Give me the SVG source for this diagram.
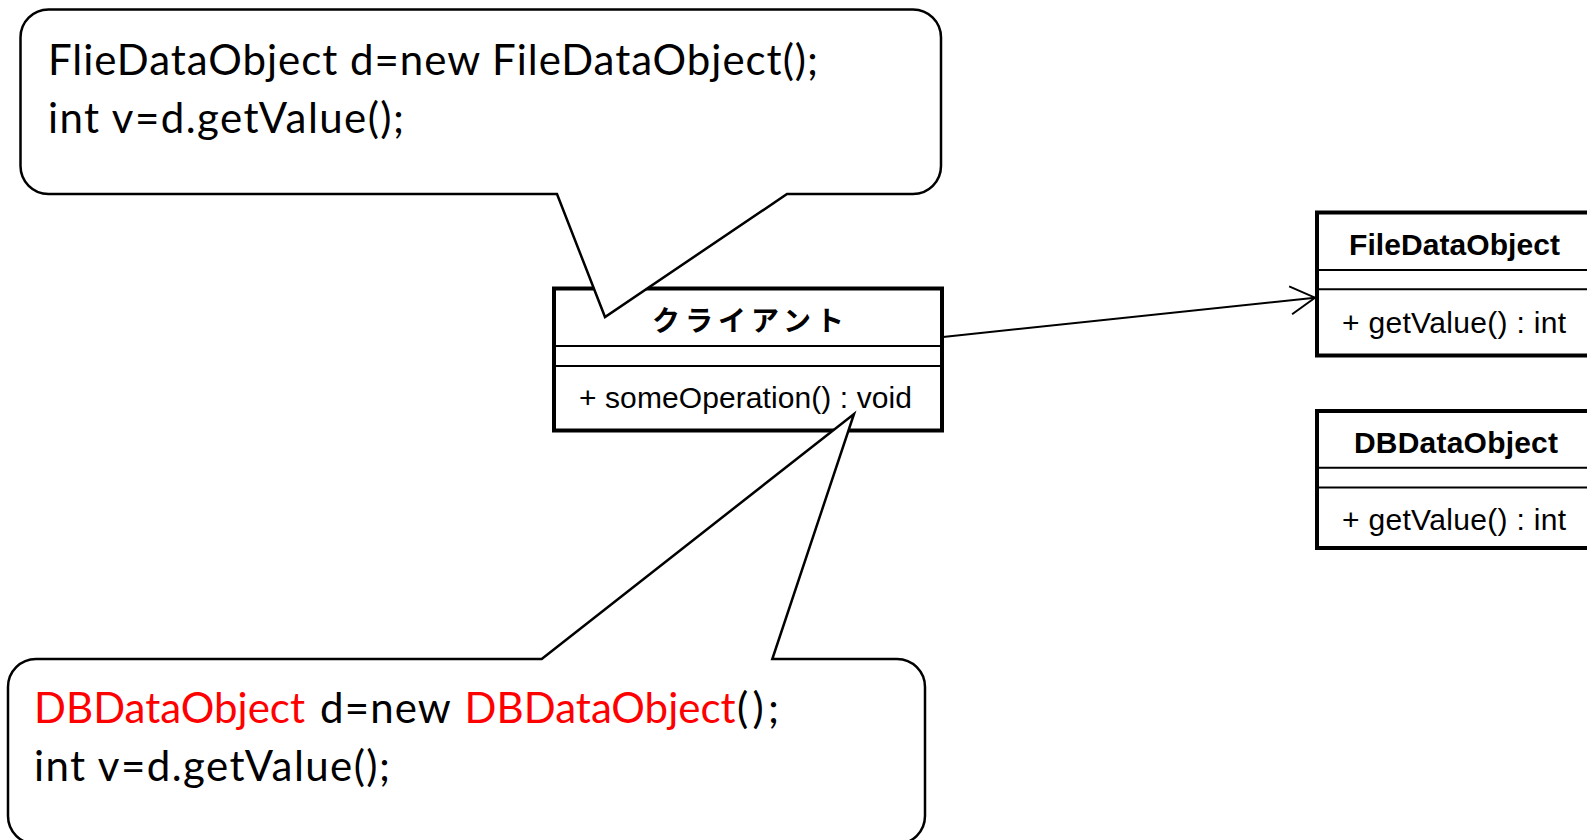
<svg xmlns="http://www.w3.org/2000/svg" width="1587" height="840" viewBox="0 0 1587 840">
<style>
.callout{fill:#fff;stroke:#000;stroke-width:2.5;stroke-linejoin:miter}
.code{font-family:Lato,"Open Sans",sans-serif;font-size:42px;fill:#000}
.red{fill:#ff0000}
.box{fill:#fff;stroke:#000;stroke-width:4}
.sep{stroke:#000;stroke-width:2}
.cls{font-family:"Liberation Sans",Arial,sans-serif;font-size:30px;fill:#000}
.bold{font-weight:bold}
.jp{font-family:"Noto Sans CJK JP","Noto Sans",sans-serif;font-size:28px;font-weight:bold;fill:#000}
.conn{fill:none;stroke:#000;stroke-width:2}
</style>
<defs>
<marker id="open" markerUnits="userSpaceOnUse" markerWidth="32" markerHeight="34" viewBox="-28 -17 32 34" refX="0" refY="0" orient="auto">
<path d="M-24.5,-14 L0,0 L-24.5,14" fill="none" stroke="#000" stroke-width="2"/>
</marker>
</defs>
<rect width="1587" height="840" fill="#fff"/>

<g id="connectors">
<line class="conn" x1="943" y1="337" x2="1315" y2="297.7" marker-end="url(#open)"/>
</g>

<g id="client">
<rect class="box" x="554" y="288.5" width="388" height="142"/>
<line class="sep" x1="554" y1="346" x2="942" y2="346"/>
<line class="sep" x1="554" y1="366" x2="942" y2="366"/>
<text class="jp" x="652" y="331" textLength="192">クライアント</text>
<text class="cls" x="579" y="408" textLength="333">+ someOperation() : void</text>
</g>

<g id="fileDataObject">
<rect class="box" x="1317" y="212.5" width="276" height="143"/>
<line class="sep" x1="1317" y1="270" x2="1593" y2="270"/>
<line class="sep" x1="1317" y1="289.3" x2="1593" y2="289.3"/>
<text class="cls bold" x="1349" y="255" textLength="211">FileDataObject</text>
<text class="cls" x="1342" y="333" textLength="224">+ getValue() : int</text>
</g>

<g id="dbDataObject">
<rect class="box" x="1317" y="411" width="276" height="137"/>
<line class="sep" x1="1317" y1="467.7" x2="1593" y2="467.7"/>
<line class="sep" x1="1317" y1="487.5" x2="1593" y2="487.5"/>
<text class="cls bold" x="1354" y="453" textLength="204">DBDataObject</text>
<text class="cls" x="1342" y="530" textLength="224">+ getValue() : int</text>
</g>

<g id="noteTop">
<path class="callout" d="M48.5,9.5 H913 A28,28 0 0 1 941,37.5 V166 A28,28 0 0 1 913,194 H787 L605,317 L557,194 H48.5 A28,28 0 0 1 20.5,166 V37.5 A28,28 0 0 1 48.5,9.5 Z"/>
<text class="code" x="48" y="75" textLength="770">FlieDataObject d=new FileDataObject();</text>
<text class="code" x="48" y="133" textLength="356">int v=d.getValue();</text>
</g>

<g id="noteBottom">
<path class="callout" d="M36,659 H541.7 L854,414 L772.3,659 H897 A28,28 0 0 1 925,687 V816 A28,28 0 0 1 897,844 H36 A28,28 0 0 1 8,816 V687 A28,28 0 0 1 36,659 Z"/>
<text class="code" y="723"><tspan class="red" x="34" textLength="271">DBDataObject</tspan> <tspan x="320" textLength="130">d=new</tspan> <tspan class="red" x="464.6" textLength="271">DBDataObject</tspan><tspan x="737" textLength="42">();</tspan></text>
<text class="code" x="34" y="781" textLength="356">int v=d.getValue();</text>
</g>
</svg>
